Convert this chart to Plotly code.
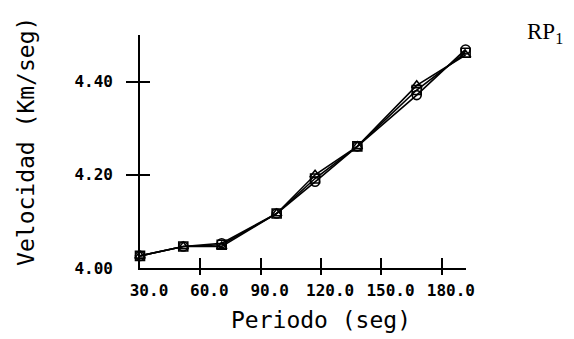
import plotly.graph_objects as go

# Periodo (seg)
periodo = [30.0, 51.5, 70.6, 97.9, 117.0, 138.0, 167.5, 191.8]
# Velocidad (Km/seg) - circle series
vel_circ = [4.026, 4.046, 4.053, 4.117, 4.185, 4.261, 4.371, 4.469]
# triangle series
vel_tri = [4.026, 4.046, 4.046, 4.117, 4.200, 4.261, 4.392, 4.457]
# square series
vel_sq = [4.026, 4.046, 4.050, 4.117, 4.192, 4.261, 4.382, 4.462]

x_ticks = [30, 60, 90, 120, 150, 180]
x_labels = ["30.0", "60.0", "90.0", "120.0", "150.0", "180.0"]
y_ticks = [4.0, 4.2, 4.4]
y_labels = ["4.00", "4.20", "4.40"]

fig = go.Figure()
for vals, sym in [(vel_sq, "square-open"), (vel_circ, "circle-open"), (vel_tri, "triangle-up-open")]:
    fig.add_trace(go.Scatter(
        x=periodo, y=vals, mode="lines+markers",
        line=dict(color="black", width=1.6),
        marker=dict(symbol=sym, size=9, color="black", line=dict(width=1.6, color="black")),
        cliponaxis=False, showlegend=False,
    ))

tickfont = dict(family="DejaVu Sans Mono", size=16, color="black", weight="bold")
fig.update_layout(
    width=574, height=339,
    margin=dict(l=140, r=108, t=35, b=71),
    paper_bgcolor="white", plot_bgcolor="white",
    xaxis=dict(
        range=[30, 192], showgrid=False, zeroline=False,
        showline=True, linecolor="black", linewidth=1.6,
        tickmode="array", tickvals=x_ticks, ticktext=x_labels,
        ticks="inside", ticklen=10, tickwidth=1.6, tickcolor="black",
        minor=dict(tickmode="array", tickvals=x_ticks[1:], ticks="outside",
                   ticklen=5, tickwidth=1.6, tickcolor="black", showgrid=False),
        tickfont=tickfont, ticklabelshift=9, ticklabelstandoff=7,
    ),
    yaxis=dict(
        range=[4.0, 4.5], showgrid=False, zeroline=False,
        showline=True, linecolor="black", linewidth=1.6,
        tickmode="array", tickvals=y_ticks, ticktext=y_labels,
        ticks="inside", ticklen=10, tickwidth=1.6, tickcolor="black",
        minor=dict(tickmode="array", tickvals=y_ticks[1:], ticks="outside",
                   ticklen=12, tickwidth=1.6, tickcolor="black", showgrid=False),
        tickfont=tickfont, ticklabelstandoff=22,
    ),
    annotations=[
        dict(text="Periodo (seg)", xref="paper", yref="paper",
             x=0.555, y=-0.223, xanchor="center", yanchor="middle", showarrow=False,
             font=dict(family="DejaVu Sans Mono", size=23, color="black")),
        dict(text="Velocidad (Km/seg)", xref="paper", yref="paper",
             x=-0.35, y=0.545, xanchor="center", yanchor="middle", showarrow=False,
             textangle=-90,
             font=dict(family="DejaVu Sans Mono", size=23, color="black")),
        dict(text="RP<sub>1</sub>", xref="paper", yref="paper",
             x=1.242, y=1.01, xanchor="center", yanchor="middle", showarrow=False,
             font=dict(family="Liberation Serif", size=23, color="black")),
    ],
)

fig.write_html("out.html")
